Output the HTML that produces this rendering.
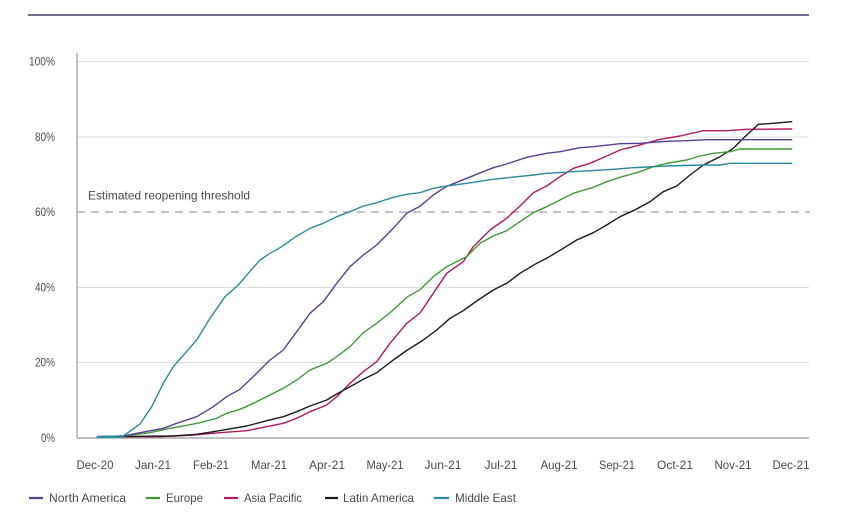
<!DOCTYPE html>
<html>
<head>
<meta charset="utf-8">
<style>
html,body{margin:0;padding:0;background:#fff;}
svg{display:block;}
text{font-family:"Liberation Sans",sans-serif;fill:#4a4a4a;font-size:12px;}
</style>
</head>
<body>
<svg width="845" height="522" viewBox="0 0 845 522" xmlns="http://www.w3.org/2000/svg">
<rect width="845" height="522" fill="#fff"/>
<!-- top rule -->
<line x1="28" y1="15" x2="809" y2="15" stroke="#4b3866" stroke-width="1.4"/>
<!-- gridlines -->
<g stroke="#dcdcdc" stroke-width="1">
<line x1="77" y1="61.5" x2="809" y2="61.5"/>
<line x1="77" y1="137" x2="809" y2="137"/>
<line x1="77" y1="287.5" x2="809" y2="287.5"/>
<line x1="77" y1="362.5" x2="809" y2="362.5"/>
</g>
<line x1="77" y1="212" x2="810" y2="212" stroke="#8a8a8a" stroke-width="1" stroke-dasharray="8,6"/>
<!-- axes -->
<line x1="77" y1="53" x2="77" y2="438" stroke="#9a9a9a" stroke-width="1.2"/>
<line x1="77" y1="438" x2="809" y2="438" stroke="#9a9a9a" stroke-width="1.2"/>
<!-- y labels -->
<g text-anchor="end">
<text x="55" y="65.5" textLength="26" lengthAdjust="spacingAndGlyphs">100%</text>
<text x="55" y="141" textLength="20" lengthAdjust="spacingAndGlyphs">80%</text>
<text x="55" y="216" textLength="20" lengthAdjust="spacingAndGlyphs">60%</text>
<text x="55" y="291.5" textLength="20" lengthAdjust="spacingAndGlyphs">40%</text>
<text x="55" y="366.5" textLength="20" lengthAdjust="spacingAndGlyphs">20%</text>
<text x="55" y="442" textLength="14" lengthAdjust="spacingAndGlyphs">0%</text>
</g>
<text x="88" y="199.5" textLength="162" lengthAdjust="spacingAndGlyphs">Estimated reopening threshold</text>
<!-- x labels -->
<g text-anchor="middle">
<text x="95" y="469" textLength="37" lengthAdjust="spacingAndGlyphs">Dec-20</text>
<text x="153" y="469" textLength="36" lengthAdjust="spacingAndGlyphs">Jan-21</text>
<text x="211" y="469" textLength="36" lengthAdjust="spacingAndGlyphs">Feb-21</text>
<text x="269" y="469" textLength="36" lengthAdjust="spacingAndGlyphs">Mar-21</text>
<text x="327" y="469" textLength="36" lengthAdjust="spacingAndGlyphs">Apr-21</text>
<text x="385" y="469" textLength="37" lengthAdjust="spacingAndGlyphs">May-21</text>
<text x="443" y="469" textLength="37" lengthAdjust="spacingAndGlyphs">Jun-21</text>
<text x="501" y="469" textLength="33" lengthAdjust="spacingAndGlyphs">Jul-21</text>
<text x="559" y="469" textLength="37" lengthAdjust="spacingAndGlyphs">Aug-21</text>
<text x="617" y="469" textLength="36" lengthAdjust="spacingAndGlyphs">Sep-21</text>
<text x="675" y="469" textLength="36" lengthAdjust="spacingAndGlyphs">Oct-21</text>
<text x="733" y="469" textLength="37" lengthAdjust="spacingAndGlyphs">Nov-21</text>
<text x="791" y="469" textLength="37" lengthAdjust="spacingAndGlyphs">Dec-21</text>
</g>
<!-- series -->
<g fill="none" stroke-width="1.4" stroke-linejoin="round" stroke-linecap="round">
<polyline stroke="#b4185f" points="97.3,436.7 160,436.7 193.3,435 220,432.7 246.7,430.7 266.7,426.7 283.3,423.3 296.7,418.3 310,411.7 326.7,405 336.7,396.7 350,383.3 363.3,371.7 376.7,361.7 390,343.3 406.7,323.3 420,313 433.3,293.3 446.7,273.3 463.3,261.7 473.3,246.7 490,230 506.7,218.3 520,206 533.3,192.7 546.7,186 560,176.7 573.3,168.3 590,163.3 606.7,156 620,150 633.3,146.7 660,139.3 680,136 703.3,130.7 726.7,130.7 746.7,129.3 791.7,129"/>
<polyline stroke="#1a1a1a" points="97.3,436.7 173.3,436 196.7,434.3 213.3,431.7 233.3,428.3 246.7,426 266.7,420.7 283.3,416.7 296.7,411.7 310,406 326.7,400 336.7,394 350,386.7 363.3,379.3 376.7,372.7 393.3,360 406.7,350.5 423.3,340 436.7,330 450,318.3 463.3,310.7 476.7,301 493.3,290 506.7,283.3 520,273.3 536.7,263.3 546.7,258.3 563.3,248.3 576.7,240 593.3,232.7 606.7,225 620,216.7 633.3,210.7 650,201.7 663.3,191.7 676.7,186 690,175 703.3,165 720,156.7 733.3,148.3 743.3,138.3 758.3,124.3 773.3,123.3 791.7,121.7"/>
<polyline stroke="#3d9b35" points="97.3,436.7 123.3,436 150,432.7 170,428.3 183.3,426 200,422.7 216.7,418.3 226.7,413.3 240,409.3 253.3,403.3 270,395 283.3,388.3 296.7,380 310,370 326.7,363.3 336.7,356.7 350,346.7 363.3,332.7 376.7,323.3 393.3,310 406.7,297.3 420,289.7 433.3,276.7 446.7,266.7 460,260 466.7,256.7 480,243.3 493.3,236 506.7,230.7 520,221.7 533.3,212.7 546.7,206.7 560,200 573.3,193.3 593.3,187.3 606.7,181.7 620,177.3 640,171.7 653.3,166.7 666.7,163.3 686.7,160 700,156 713.3,153.3 730,151.7 740,149 791.7,149"/>
<polyline stroke="#5a3f96" points="97.3,436.7 123.3,436 136.7,433.3 163.3,428.3 176.7,423.3 196.7,416.7 213.3,406.7 226.7,396.7 240,389.3 256.7,373.3 270,360 283.3,350 296.7,331.7 310,313.3 323.3,301.7 336.7,283.3 350,266.7 363.3,255 376.7,245 393.3,228.3 406.7,213.3 420,206.3 433.3,195 446.7,186.3 466.7,178.3 493.3,167.7 506.7,164 526.7,157.3 546.7,153.3 560,151.7 580,147.7 593.3,146.7 620,143.7 640,143.3 666.7,141.3 686.7,140.7 706.7,139.7 791.7,139.7"/>
<polyline stroke="#2b8a9e" points="97.3,436.7 123.3,436 140,424 151.7,406.7 163.3,383.3 173.3,366.7 185,353.3 196.7,340 210,318.3 225,296.7 238.3,285 248.3,273.3 260,260 270,253.3 281.7,246.7 293.3,238.3 310,228.3 323.3,223.3 336.7,216.7 350,211.7 363.3,206 376.7,202.7 393.3,197.3 406.7,194.3 420,192.7 433.3,188.3 446.7,186 466.7,183.3 493.3,179.3 533.3,175 546.7,173.3 573.3,171.7 613.3,169.3 633.3,167.7 666.7,166 700,165 720,165 730,163.3 791.7,163.3"/>
</g>
<line x1="97" y1="436.8" x2="123" y2="436.8" stroke="#2b8a9e" stroke-width="2.2"/>
<!-- legend -->
<g stroke-width="2.2">
<line x1="29" y1="498" x2="43" y2="498" stroke="#5a3f96"/>
<line x1="146" y1="498" x2="160" y2="498" stroke="#3d9b35"/>
<line x1="224" y1="498" x2="238" y2="498" stroke="#b4185f"/>
<line x1="325" y1="498" x2="338" y2="498" stroke="#1a1a1a"/>
<line x1="434" y1="498" x2="449" y2="498" stroke="#2b8a9e"/>
</g>
<text x="49" y="502" textLength="77" lengthAdjust="spacingAndGlyphs">North America</text>
<text x="166" y="502" textLength="37" lengthAdjust="spacingAndGlyphs">Europe</text>
<text x="244" y="502" textLength="58" lengthAdjust="spacingAndGlyphs">Asia Pacific</text>
<text x="343" y="502" textLength="71" lengthAdjust="spacingAndGlyphs">Latin America</text>
<text x="455" y="502" textLength="61" lengthAdjust="spacingAndGlyphs">Middle East</text>
</svg>
</body>
</html>
